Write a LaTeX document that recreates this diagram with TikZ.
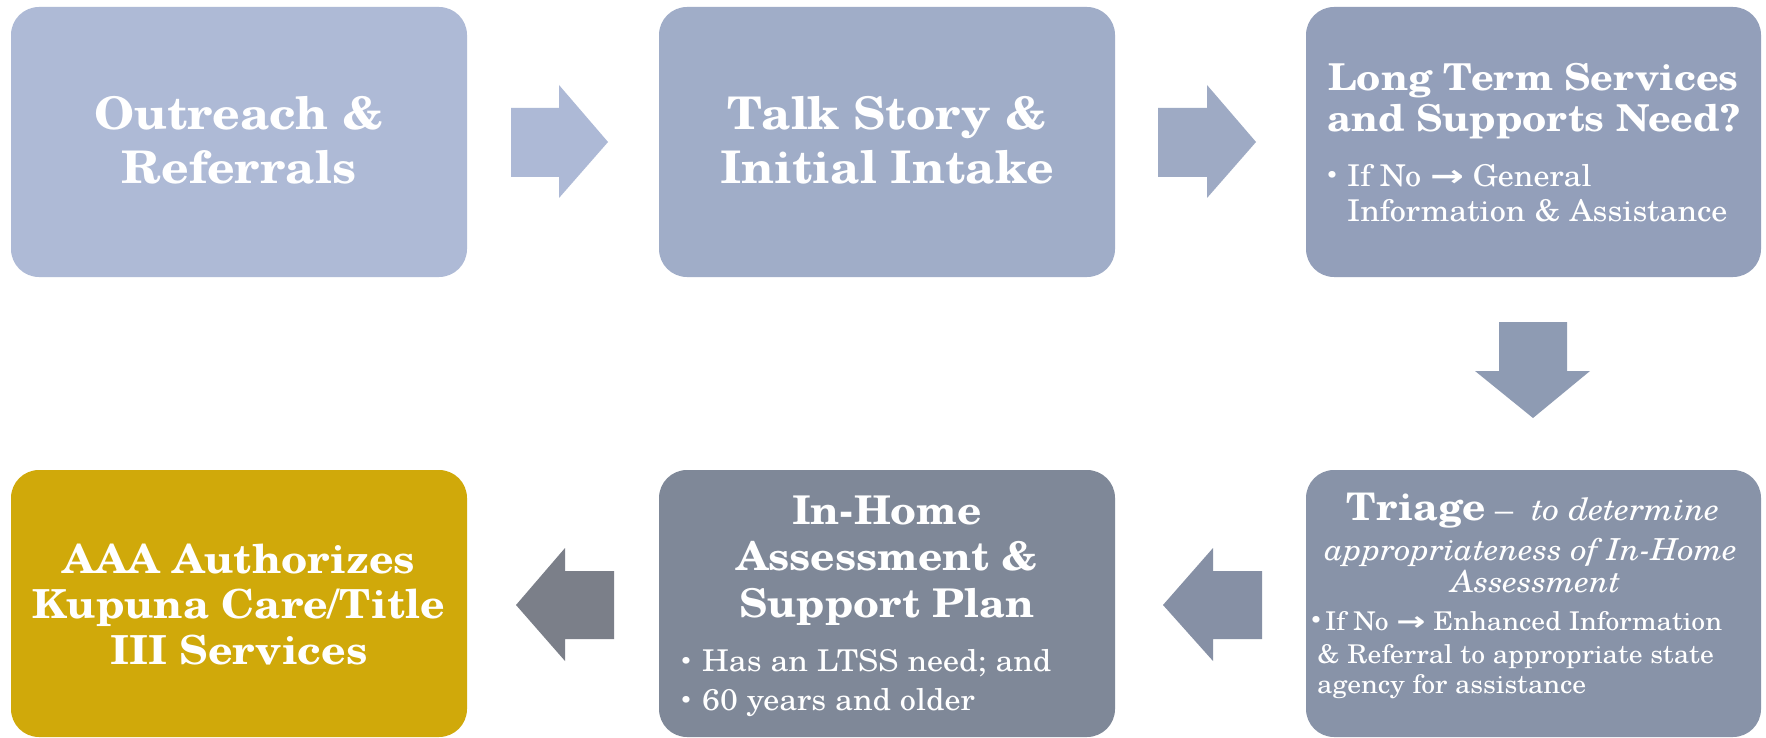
\documentclass[tikz,border=0pt]{standalone}
\usepackage{graphicx}
\usepackage{fontspec}
\setmainfont{texgyreschola}[Extension=.otf, UprightFont=*-regular, BoldFont=*-bold, ItalicFont=*-italic, BoldItalicFont=*-bolditalic, FakeStretch=1.07]
\newfontfamily\arrowfont{DejaVu Sans}
\definecolor{cA}{HTML}{AEBAD6}
\definecolor{cB}{HTML}{A0ADC8}
\definecolor{cC}{HTML}{939FBA}
\definecolor{cD}{HTML}{8893A8}
\definecolor{cE}{HTML}{7F8898}
\definecolor{cF}{HTML}{D0A90A}
\definecolor{aA}{HTML}{ADB9D6}
\definecolor{aB}{HTML}{9EAAC4}
\definecolor{aC}{HTML}{8E9BB3}
\definecolor{aD}{HTML}{8690A5}
\definecolor{aE}{HTML}{7B7F89}
\newcommand{\arr}{\scalebox{1.35}[1]{\arrowfont\bfseries →}}
\begin{document}
\begin{tikzpicture}[x=1pt,y=-1pt,
  box/.style={rounded corners=28pt, inner sep=0pt, outer sep=0pt, minimum width=456pt, minimum height=270pt, anchor=north west},
  txt/.style={text=white, inner sep=0pt, anchor=base},
  txtl/.style={text=white, inner sep=0pt, anchor=base west},
  bigb/.style={font=\fontsize{45}{54}\selectfont\bfseries},
  aaab/.style={font=\fontsize{40}{46}\selectfont\bfseries},
  midb/.style={font=\fontsize{39.6}{48}\selectfont\bfseries},
  ttlb/.style={font=\fontsize{37}{41}\selectfont\bfseries},
  bul/.style={font=\fontsize{30}{36}\selectfont},
  tribul/.style={font=\fontsize{25.8}{32}\selectfont},
  tri/.style={font=\fontsize{30.3}{32}\selectfont\itshape},
  dot/.style={text=white, inner sep=0pt, anchor=base, font=\fontsize{20}{20}\selectfont}
]
\useasboundingbox (0,0) rectangle (1766,738);
\fill[white] (0,0) rectangle (1766,738);

% boxes
\node[box, fill=cA] (b1) at (11,7) {};
\node[box, fill=cB] (b2) at (659,7) {};
\node[box, fill=cC, minimum width=455pt] (b3) at (1306,7) {};
\node[box, fill=cD, minimum width=455pt, minimum height=267pt] (b4) at (1306,470) {};
\node[box, fill=cE, minimum height=267pt] (b5) at (659,470) {};
\node[box, fill=cF, minimum height=267pt] (b6) at (11,470) {};

% block arrows
\fill[aA] (511,108) -- (559,108) -- (559,85) -- (608,142) -- (559,198) -- (559,177) -- (511,177) -- cycle;
\fill[aB] (1158,108) -- (1207,108) -- (1207,85) -- (1256,142) -- (1207,198) -- (1207,177) -- (1158,177) -- cycle;
\fill[aC] (1499,322) -- (1567,322) -- (1567,371) -- (1590,371) -- (1533,418) -- (1475,371) -- (1499,371) -- cycle;
\fill[aD] (1262,571) -- (1213,571) -- (1213,548) -- (1163,605) -- (1213,661) -- (1213,639) -- (1262,639) -- cycle;
\fill[aE] (614,571) -- (565,571) -- (565,548) -- (516,605) -- (565,661) -- (565,639) -- (614,639) -- cycle;

% box 1
\node[txt, bigb] (t1a) at (239,130) {Outreach \&};
\node[txt, bigb] (t1b) at (239,184) {Referrals};
% box 2
\node[txt, bigb] (t2a) at (887,130) {Talk Story \&};
\node[txt, bigb] (t2b) at (887,184) {Initial Intake};
% box 3
\node[txt, ttlb] (t3a) at (1533.5,91) {Long Term Services};
\node[txt, ttlb] (t3b) at (1533.5,132) {and Supports Need?};
\node[dot] (d3a) at (1332,183) {•};
\node[txtl, bul] (t3c) at (1347,186) {If No \arr{} General};
\node[txtl, bul] (t3d) at (1347,222) {Information \& Assistance};
% box 4
\node[txt] (t4a) at (1533,520) {{\fontsize{38}{40}\selectfont\bfseries Triage}{\fontsize{31}{32}\selectfont{} – \ \textit{to determine}}};
\node[txt, tri] (t4b) at (1531,560) {appropriateness of In-Home};
\node[txt, tri] (t4c) at (1536,592) {Assessment};
\node[dot] (d4a) at (1316,627) {•};
\node[txtl, tribul] (t4d) at (1325,630) {If No \arr{} Enhanced Information};
\node[txtl, tribul] (t4e) at (1317,663) {\& Referral to appropriate state};
\node[txtl, tribul] (t4f) at (1317,693) {agency for assistance};
% box 5
\node[txt, midb] (t5a) at (887,524) {In-Home};
\node[txt, midb] (t5b) at (887,570) {Assessment \&};
\node[txt, midb] (t5c) at (887,617) {Support Plan};
\node[dot] (d5a) at (686,668) {•};
\node[txtl, bul] (t5d) at (702,671) {Has an LTSS need; and};
\node[dot] (d5b) at (686,707) {•};
\node[txtl, bul] (t5e) at (702,710) {60 years and older};
% box 6
\node[txt, aaab] (t6a) at (239,573) {AAA Authorizes};
\node[txt, aaab] (t6b) at (239,618) {Kupuna Care/Title};
\node[txt, aaab] (t6c) at (239,664) {III Services};
\end{tikzpicture}
\end{document}
